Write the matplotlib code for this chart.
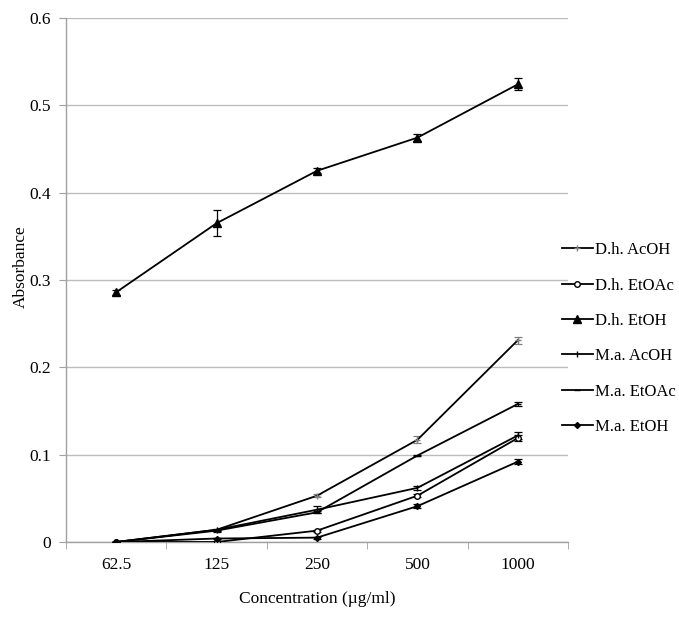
import matplotlib
matplotlib.use("Agg")
import matplotlib.pyplot as plt
import numpy as np

plt.rcParams['font.family'] = ['Liberation Serif', 'DejaVu Serif']

concentrations = ["62.5", "125", "250", "500", "1000"]
series_names = ["D.h. AcOH", "D.h. EtOAc", "D.h. EtOH", "M.a. AcOH", "M.a. EtOAc", "M.a. EtOH"]
dh_acoh = [0.0, 0.014, 0.053, 0.117, 0.231]
dh_etoac = [0.0, 0.0, 0.013, 0.053, 0.119]
dh_etoh = [0.286, 0.365, 0.425, 0.463, 0.524]
ma_acoh = [0.0, 0.014, 0.037, 0.062, 0.122]
ma_etoac = [0.0, 0.013, 0.034, 0.099, 0.158]
ma_etoh = [0.0, 0.004, 0.005, 0.041, 0.092]
dh_acoh_err = [0.0, 0.001, 0.002, 0.004, 0.004]
dh_etoac_err = [0.0, 0.001, 0.001, 0.002, 0.003]
dh_etoh_err = [0.003, 0.015, 0.003, 0.004, 0.007]
ma_acoh_err = [0.0, 0.001, 0.004, 0.002, 0.004]
ma_etoac_err = [0.0, 0.001, 0.001, 0.001, 0.002]
ma_etoh_err = [0.0, 0.001, 0.001, 0.002, 0.003]

values = [dh_acoh, dh_etoac, dh_etoh, ma_acoh, ma_etoac, ma_etoh]
errors = [dh_acoh_err, dh_etoac_err, dh_etoh_err, ma_acoh_err, ma_etoac_err, ma_etoh_err]
markers = ['+', 'o', '^', '|', '_', 'D']
msizes = [5, 4, 6, 5, 4, 3]
mfaces = ['#808080', 'white', 'black', 'black', 'black', 'black']
mecols = ['#808080', 'black', 'black', 'black', 'black', 'black']
ecols = ['#808080', 'black', 'black', 'black', 'black', 'black']

fig = plt.figure(figsize=(6.79, 6.2), dpi=100)
ax = fig.add_axes([0.0972, 0.1258, 0.7393, 0.8452])

x = np.arange(len(concentrations))
handles = []
for name, v, e, m, ms, mf, mc, ec in zip(series_names, values, errors, markers, msizes, mfaces, mecols, ecols):
    cont = ax.errorbar(x, v, yerr=e, color='black', lw=1.3, marker=m, markersize=ms,
                       markerfacecolor=mf, markeredgecolor=mc, ecolor=ec, elinewidth=0.9,
                       capsize=3, capthick=0.9, label=name, zorder=3)
    handles.append(cont[0])

ax.set_xlim(-0.5, 4.5)
ax.set_ylim(0, 0.6)
ax.set_yticks(np.arange(0, 0.61, 0.1))
ax.set_yticklabels(["0", "0.1", "0.2", "0.3", "0.4", "0.5", "0.6"])
ax.set_xticks(x)
ax.set_xticklabels(concentrations)
ax.set_xticks(np.arange(-0.5, 4.6, 1.0), minor=True)
ax.tick_params(axis='x', which='major', length=0, labelsize=12.5, pad=11)
ax.tick_params(axis='x', which='minor', length=5, color='#a0a0a0', direction='out')
ax.tick_params(axis='y', length=5, color='#a0a0a0', direction='out', labelsize=12.5, pad=6)

ax.grid(axis='y', color='#bdbdbd', lw=1.0, zorder=0)
ax.set_axisbelow(True)
for s in ['top', 'right']:
    ax.spines[s].set_visible(False)
for s in ['left', 'bottom']:
    ax.spines[s].set_color('#a0a0a0')
    ax.spines[s].set_linewidth(1.0)

ax.set_xlabel("Concentration (µg/ml)", fontsize=12.5, labelpad=13)
ax.set_ylabel("Absorbance", fontsize=12.5)
ax.yaxis.set_label_coords(-0.075, 0.525)

leg = ax.legend(handles, series_names, loc='upper left', bbox_to_anchor=(0.988, 0.572),
                frameon=False, fontsize=12, handlelength=1.85, handletextpad=0.15,
                labelspacing=1.16, borderaxespad=0, borderpad=0)

fig.savefig("out.png", dpi=100)
